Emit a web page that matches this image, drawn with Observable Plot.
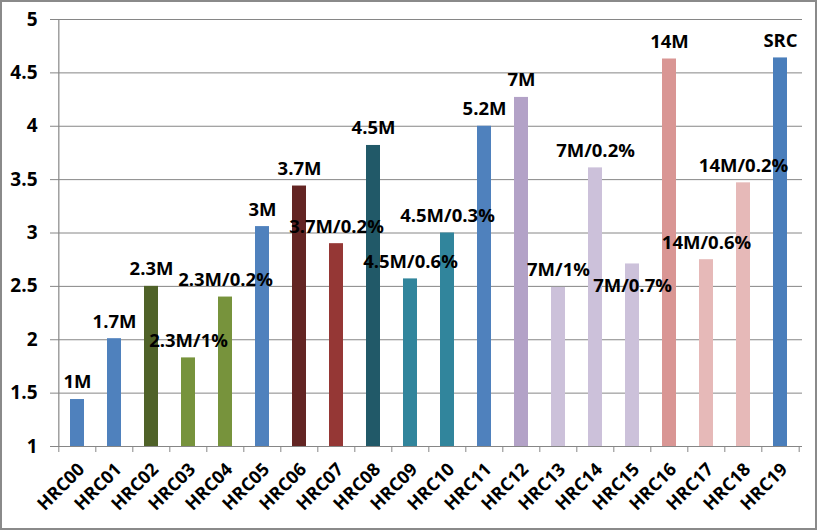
<!DOCTYPE html>
<html>
<head>
<meta charset="utf-8">
<script src="https://cdn.jsdelivr.net/npm/d3@7"></script>
<script src="https://cdn.jsdelivr.net/npm/@observablehq/plot@0.6"></script>
<style>
  html, body { margin: 0; padding: 0; background: #fff; }
  svg { outline: 2px solid #8a8a8a; outline-offset: -2px; }
</style>
</head>
<body>
<div id="chart"></div>
<script>
const categories = ["HRC00","HRC01","HRC02","HRC03","HRC04","HRC05","HRC06","HRC07","HRC08","HRC09",
                    "HRC10","HRC11","HRC12","HRC13","HRC14","HRC15","HRC16","HRC17","HRC18","HRC19"];
const values = [1.44, 2.01, 2.50, 1.83, 2.40, 3.06, 3.44, 2.90, 3.82, 2.57,
                3.00, 4.00, 4.27, 2.49, 3.61, 2.71, 4.63, 2.75, 3.47, 4.64];
const labels = ["1M","1.7M","2.3M","2.3M/1%","2.3M/0.2%","3M","3.7M","3.7M/0.2%","4.5M","4.5M/0.6%",
                "4.5M/0.3%","5.2M","7M","7M/1%","7M/0.2%","7M/0.7%","14M","14M/0.6%","14M/0.2%","SRC"];
const yTicks = [1, 1.5, 2, 2.5, 3, 3.5, 4, 4.5, 5];
const barColors = ["#4F81BD","#4F81BD","#4F6228","#77933C","#77933C","#4F81BD","#632523","#953735","#215968","#31859C",
                   "#31859C","#4F81BD","#B3A2C7","#CCC1DA","#CCC1DA","#CCC1DA","#D99694","#E6B9B8","#E6B9B8","#4A7EBB"];

const data = categories.map((c, i) => ({cat: c, value: values[i], label: labels[i]}));

const W = 817, H = 530, mL = 55, mR = 15, mT = 19, mB = 84;
const step = (W - mL - mR) / categories.length;
const grid = "#868686";
const lowLabel = "7M/0.7%";

const chart = Plot.plot({
  width: W, height: H,
  marginLeft: mL, marginRight: mR, marginTop: mT, marginBottom: mB,
  style: {fontFamily: "'Open Sans', sans-serif", fontWeight: 700, fontSize: "18px", color: "#000", background: "#fff"},
  x: {type: "band", domain: categories, paddingInner: 0.61, paddingOuter: 0.305},
  y: {domain: [1, 5]},
  color: {type: "ordinal", domain: categories, range: barColors},
  marks: [
    Plot.gridY(yTicks, {stroke: grid, strokeOpacity: 1, strokeWidth: 1}),
    Plot.barY(data, {x: "cat", y1: 1, y2: "value", fill: "cat"}),
    Plot.ruleY([1], {stroke: grid, strokeWidth: 1.2}),
    Plot.ruleX([categories[0]], {stroke: grid, strokeWidth: 1.2, dx: -step / 2}),
    Plot.axisY({ticks: yTicks, tickFormat: d => String(d), tickSize: 5, tickPadding: 13, stroke: grid, fontSize: 19, fontWeight: 700, label: null}),
    Plot.axisX({tickSize: 6, tickFormat: null, stroke: grid, dx: -step / 2, label: null}),
    Plot.axisX([categories[categories.length - 1]], {tickSize: 6, tickFormat: null, stroke: grid, dx: step / 2, label: null}),
    Plot.text(categories, {x: d => d, frameAnchor: "bottom", text: d => d, rotate: -45, textAnchor: "end", lineAnchor: "middle", dx: 4, dy: 20, fontSize: 18, fontWeight: 700, fill: "#000", className: "xlab"}),
    Plot.text(data.filter(d => d.label !== lowLabel), {x: "cat", y: "value", text: "label", dy: -17, lineAnchor: "middle", fontSize: 18.5, fontWeight: 700, fill: "#000"}),
    Plot.text(data.filter(d => d.label === lowLabel), {x: "cat", y: "value", text: "label", dy: 22, lineAnchor: "middle", fontSize: 18.5, fontWeight: 700, fill: "#000"})
  ]
});
document.getElementById("chart").appendChild(chart);

// Move each tick label's rotation onto its own wrapping group
const NS = "http://www.w3.org/2000/svg";
chart.querySelectorAll("g.xlab text").forEach(t => {
  const m = /translate\(([-\d.e]+)[ ,]+([-\d.e]+)\)/.exec(t.getAttribute("transform") || "");
  if (!m) return;
  const g = document.createElementNS(NS, "g");
  g.setAttribute("transform", `translate(${m[1]},${m[2]}) rotate(-45)`);
  g.style.transform = `translate(${m[1]}px,${m[2]}px) rotate(-45deg)`;
  t.removeAttribute("transform");
  t.parentNode.insertBefore(g, t);
  g.appendChild(t);
});
</script>
</body>
</html>
